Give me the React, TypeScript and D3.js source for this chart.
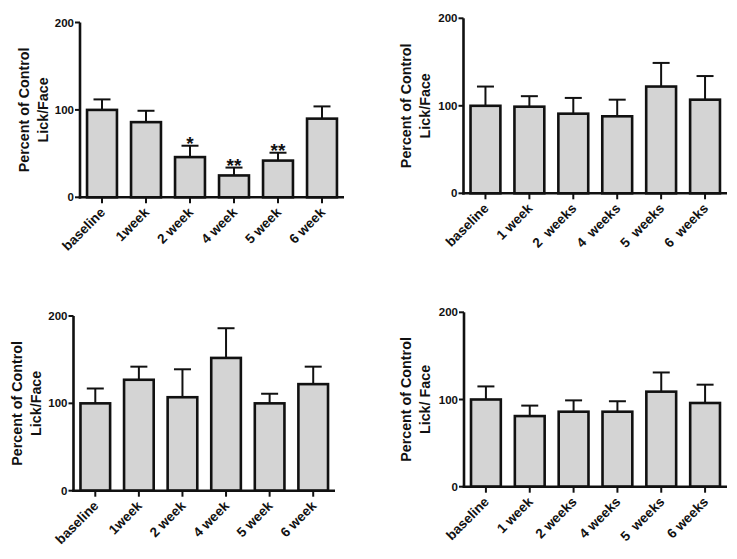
import React from "react";
import * as d3 from "d3";

// ---- Data ----
const cats1 = ["baseline", "1week", "2 week", "4 week", "5 week", "6 week"];
const mean1 = [100, 86, 46, 25, 42, 90];
const sem1 = [12, 13, 13, 9, 9, 14];
const stars1 = ["", "", "*", "**", "**", ""];

const cats2 = ["baseline", "1 week", "2  weeks", "4  weeks", "5  weeks", "6  weeks"];
const mean2 = [100, 99, 91, 88, 122, 107];
const sem2 = [22, 12, 18, 19, 27, 27];

const cats3 = ["baseline", "1week", "2 week", "4 week", "5 week", "6 week"];
const mean3 = [100, 127, 107, 152, 100, 122];
const sem3 = [17, 15, 32, 34, 11, 20];

const cats4 = ["baseline", "1 week", "2 weeks", "4 weeks", "5  weeks", "6 weeks"];
const mean4 = [100, 81, 86, 86, 109, 96];
const sem4 = [15, 12, 13, 12, 22, 21];

const yTicks = [0, 100, 200];
const yLabel1 = "Percent of Control";
const yLabelA = "Lick/Face";
const yLabelB = "Lick/ Face";

const FONT = "'Liberation Sans', Arial, Helvetica, sans-serif";
const INK = "#111";

type PanelProps = {
  cats: string[];
  means: number[];
  sems: number[];
  stars?: string[];
  left: number;
  right: number;
  top: number;
  bottom: number;
  label2: string;
  labelX: number;
};

function Panel({ cats, means, sems, stars, left, right, top, bottom, label2, labelX }: PanelProps) {
  const x = d3.scaleBand<string>().domain(cats).range([left, right]).paddingInner(0.32).paddingOuter(0.16);
  const y = d3.scaleLinear().domain([0, 200]).range([bottom, top]);
  const bw = x.bandwidth();
  const capW = 17;
  const midY = (top + bottom) / 2;
  return (
    <g>
      {cats.map((c, i) => {
        const cx = (x(c) as number) + bw / 2;
        const yt = y(means[i] + sems[i]);
        return (
          <g key={c + i}>
            <line x1={cx} x2={cx} y1={y(means[i])} y2={yt} stroke={INK} strokeWidth={2} />
            <line x1={cx - capW / 2} x2={cx + capW / 2} y1={yt} y2={yt} stroke={INK} strokeWidth={2} />
            <rect
              x={x(c) as number}
              y={y(means[i])}
              width={bw}
              height={bottom - y(means[i])}
              fill="#d4d4d4"
              stroke={INK}
              strokeWidth={2.6}
            />
            {stars && stars[i] ? (
              <text x={cx} y={yt + 4} textAnchor="middle" fontFamily={FONT} fontWeight="bold" fontSize={19} fill={INK}>
                {stars[i]}
              </text>
            ) : null}
            <line x1={cx} x2={cx} y1={bottom} y2={bottom + 6} stroke={INK} strokeWidth={2} />
            <text
              transform={`translate(${cx + 4},${bottom + 16}) rotate(-45)`}
              textAnchor="end"
              fontFamily={FONT}
              fontWeight="bold"
              fontSize={13.5}
              fill={INK}
              style={{ whiteSpace: "pre" }}
            >
              {c}
            </text>
          </g>
        );
      })}
      {/* axes */}
      <line x1={left} x2={left} y1={top} y2={bottom + 1.3} stroke={INK} strokeWidth={2.6} />
      <line x1={left - 1.3} x2={right} y1={bottom} y2={bottom} stroke={INK} strokeWidth={2.6} />
      {yTicks.map((t) => (
        <g key={t}>
          <line x1={left - 5} x2={left} y1={y(t)} y2={y(t)} stroke={INK} strokeWidth={2} />
          <text x={left - 6} y={y(t)} dy="0.35em" textAnchor="end" fontFamily={FONT} fontWeight="bold" fontSize={11.5} fill={INK}>
            {t}
          </text>
        </g>
      ))}
      <text
        transform={`translate(${labelX},${midY}) rotate(-90)`}
        textAnchor="middle"
        fontFamily={FONT}
        fontWeight="bold"
        fontSize={14.3}
        fill={INK}
      >
        <tspan x={0} dy="0.35em">{yLabel1}</tspan>
        <tspan x={0} dy="19">{label2}</tspan>
      </text>
    </g>
  );
}

export default function App() {
  return (
    <svg width={737} height={559} style={{ position: "absolute", left: 0, top: 0, background: "#fff" }}>
      <rect width={737} height={559} fill="#fff" />
      <Panel cats={cats1} means={mean1} sems={sem1} stars={stars1} left={80} right={344} top={22.5} bottom={197.3} label2={yLabelA} labelX={24} />
      <Panel cats={cats2} means={mean2} sems={sem2} left={463.5} right={727} top={18.3} bottom={193.3} label2={yLabelA} labelX={406} />
      <Panel cats={cats3} means={mean3} sems={sem3} left={73.5} right={335} top={316} bottom={490.7} label2={yLabelA} labelX={17} />
      <Panel cats={cats4} means={mean4} sems={sem4} left={464} right={727} top={312.3} bottom={486.7} label2={yLabelB} labelX={406} />
    </svg>
  );
}
